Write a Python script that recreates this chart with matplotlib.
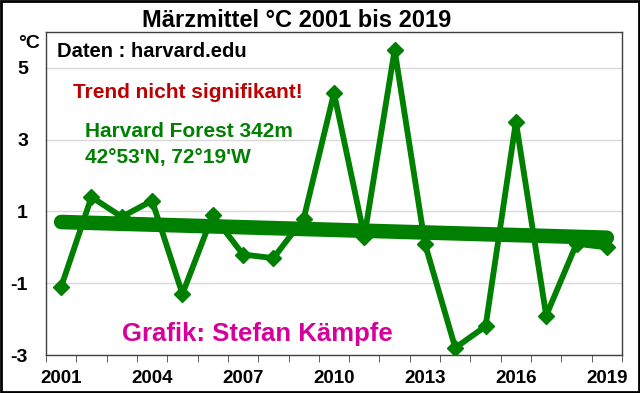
import numpy as np
import matplotlib.pyplot as plt
from matplotlib.patches import Rectangle

plt.rcParams["font.family"] = ["Liberation Sans", "DejaVu Sans"]

years = list(range(2001, 2020))
temps = [-1.1, 1.4, 0.85, 1.3, -1.3, 0.9, -0.2, -0.3, 0.8, 4.3,
         0.3, 5.5, 0.1, -2.8, -2.2, 3.5, -1.9, 0.1, 0.0]
ytick_vals = [-3, -1, 1, 3, 5]
xtick_years = [2001, 2004, 2007, 2010, 2013, 2016, 2019]

GREEN = "#008000"
W, H = 640, 393


def fx(px):
    return px / W


def fy(py):
    return 1 - py / H


fig = plt.figure(figsize=(6.4, 3.93), dpi=100)
ax = fig.add_axes([fx(46), fy(355), fx(622) - fx(46), fy(32) - fy(355)])

x = np.arange(len(years))
ax.plot(x, temps, color=GREEN, lw=4.2, marker="D", ms=8.5, mec=GREEN, mew=1,
        solid_joinstyle="round", zorder=3)

# linear trend
k, d = np.polyfit(x, temps, 1)
ax.plot([x[0], x[-1]], [d + k * x[0], d + k * x[-1]], color=GREEN, lw=10.5,
        solid_capstyle="round", zorder=4)

ax.set_xlim(-0.5, len(years) - 0.5)
ax.set_ylim(-3, 6)
ax.set_yticks(ytick_vals)
ax.set_yticklabels([str(v) for v in ytick_vals])
ax.yaxis.grid(True, color="#d9d9d9", lw=1)
ax.set_axisbelow(True)
ax.tick_params(axis="y", length=0, pad=13, labelsize=14)
for lab in ax.get_yticklabels():
    lab.set_fontweight("bold")

ax.set_xticks([years.index(y) for y in xtick_years])
ax.set_xticklabels([str(y) for y in xtick_years], fontsize=13.5, fontweight="bold")
ax.set_xticks(np.arange(-0.5, len(years)), minor=True)
ax.tick_params(axis="x", which="major", length=0, pad=11)
ax.tick_params(axis="x", which="minor", length=5, direction="out", color="#404040")

for s in ax.spines.values():
    s.set_color("#404040")
    s.set_linewidth(1)

fig.text(fx(297), fy(27), "Märzmittel °C 2001 bis 2019", ha="center", va="baseline",
         fontsize=17, fontweight="bold")
fig.text(fx(18), fy(48), "°C", ha="left", va="baseline", fontsize=14, fontweight="bold")
fig.text(fx(57), fy(57), "Daten : harvard.edu", ha="left", va="baseline",
         fontsize=14.5, fontweight="bold")
fig.text(fx(73), fy(98), "Trend nicht signifikant!", ha="left", va="baseline",
         fontsize=15, fontweight="bold", color="#c00000")
fig.text(fx(85), fy(137), "Harvard Forest 342m", ha="left", va="baseline",
         fontsize=15, fontweight="bold", color=GREEN)
fig.text(fx(85), fy(163), "42°53'N, 72°19'W", ha="left", va="baseline",
         fontsize=15, fontweight="bold", color=GREEN)
fig.text(fx(122), fy(341), "Grafik: Stefan Kämpfe", ha="left", va="baseline",
         fontsize=18.5, fontweight="bold", color="#d6009b")

fig.patches.append(Rectangle((0.0015, 0.0025), 0.997, 0.995, transform=fig.transFigure,
                             fill=False, ec="black", lw=2))

fig.savefig("out.png", dpi=100)
